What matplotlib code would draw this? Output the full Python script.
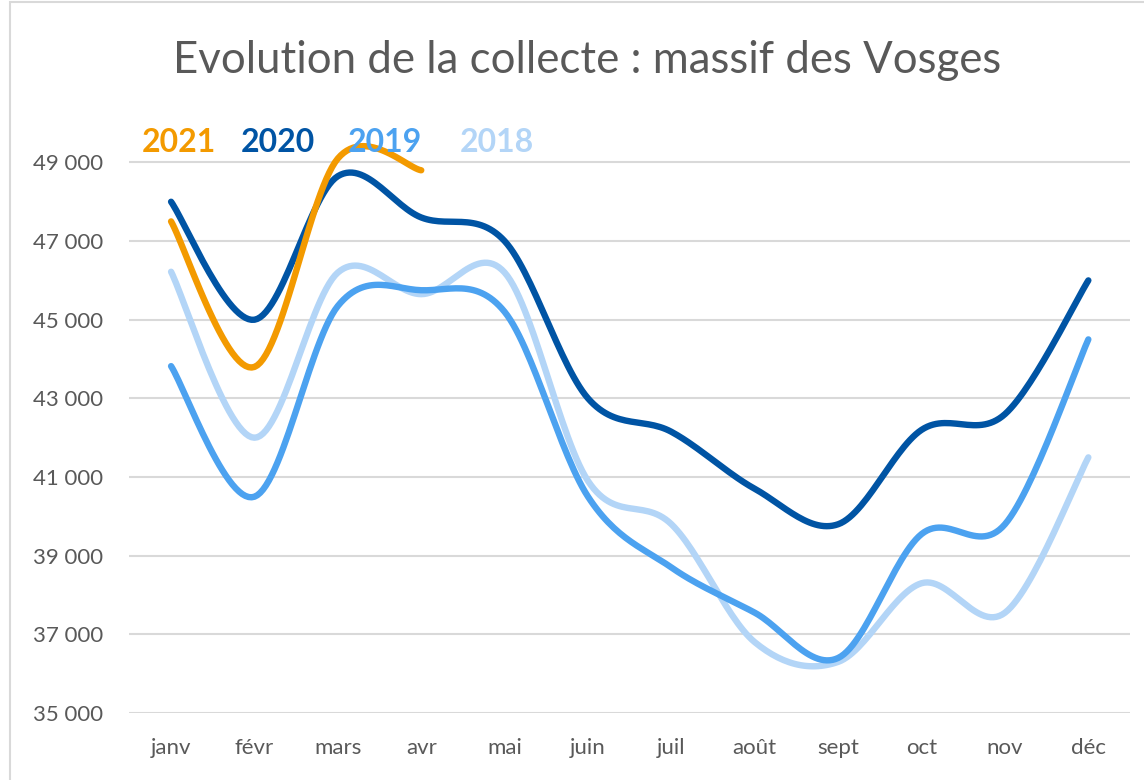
import numpy as np
import matplotlib
matplotlib.use("Agg")
import matplotlib.pyplot as plt
from matplotlib.patches import Rectangle

# monthly collection figures
months = ["janv", "févr", "mars", "avr", "mai", "juin", "juil", "août", "sept", "oct", "nov", "déc"]
y2018 = [46220, 42000, 46200, 45650, 46200, 40900, 39800, 36800, 36300, 38300, 37550, 41500]
y2019 = [43820, 40500, 45350, 45750, 45200, 40500, 38700, 37550, 36400, 39550, 39800, 44500]
y2020 = [48000, 45000, 48650, 47600, 47000, 43000, 42150, 40700, 39800, 42200, 42600, 46000]
y2021 = [47500, 43800, 49100, 48800]

colors = {"2021": "#F39A00", "2020": "#0054A4", "2019": "#4CA2F0", "2018": "#B3D5F7"}
text_gray = "#595959"


def smooth(values, steps=30):
    # excel-like smoothed line: bezier segments with catmull-rom control points
    p = np.array(values, dtype=float)
    x = np.arange(len(p), dtype=float)
    pts = np.column_stack([x, p])
    ext = np.vstack([pts[0], pts, pts[-1]])
    out = []
    t = np.linspace(0, 1, steps)[:, None]
    for i in range(len(pts) - 1):
        p0, p3 = ext[i + 1], ext[i + 2]
        c1 = p0 + (ext[i + 2] - ext[i]) / 6.0
        c2 = p3 - (ext[i + 3] - ext[i + 1]) / 6.0
        seg = (1 - t) ** 3 * p0 + 3 * (1 - t) ** 2 * t * c1 + 3 * (1 - t) * t ** 2 * c2 + t ** 3 * p3
        out.append(seg if i == 0 else seg[1:])
    seg = np.vstack(out)
    return seg[:, 0], seg[:, 1]


plt.rcParams['font.family'] = ['Lato', 'DejaVu Sans']

fig = plt.figure(figsize=(11.44, 7.80), dpi=100)
ax = fig.add_axes([0.1131, 0.0859, 0.8747, 0.7815])

for name, vals in [("2018", y2018), ("2019", y2019), ("2020", y2020), ("2021", y2021)]:
    xs, ys = smooth(vals)
    ax.plot(xs, ys, color=colors[name], lw=4.6, solid_capstyle='round', clip_on=False, zorder=3)

ax.set_xlim(-0.5, 11.5)
ax.set_ylim(35000, 50500)
ax.set_yticks(range(35000, 49001, 2000))
ax.set_yticklabels([f"{v // 1000} {v % 1000:03d}" for v in range(35000, 49001, 2000)])
ax.set_xticks(range(len(months)))
ax.set_xticklabels(months)
ax.grid(axis='y', color='#d9d9d9', lw=1.5)
ax.set_axisbelow(True)
for s in ax.spines.values():
    s.set_visible(False)
ax.tick_params(length=0, labelsize=16, labelcolor=text_gray)
ax.tick_params(axis='y', pad=19)
ax.tick_params(axis='x', pad=18)

fig.text(0.513, 0.923, "Evolution de la collecte : massif des Vosges", ha='center', va='center',
         fontsize=31.5, color=text_gray)

legend_x = {"2021": 179, "2020": 278, "2019": 385, "2018": 497}
for name, px in legend_x.items():
    fig.text(px / 1144, 1 - 142 / 780, name, ha='center', va='center', fontsize=23,
             fontweight='bold', color=colors[name])

fig.patches.append(Rectangle((10 / 1144, -0.1), 1.2, 1.1 - 2 / 780, transform=fig.transFigure,
                             fill=False, edgecolor='#d9d9d9', lw=1.5))

fig.savefig("out.png", dpi=100)
